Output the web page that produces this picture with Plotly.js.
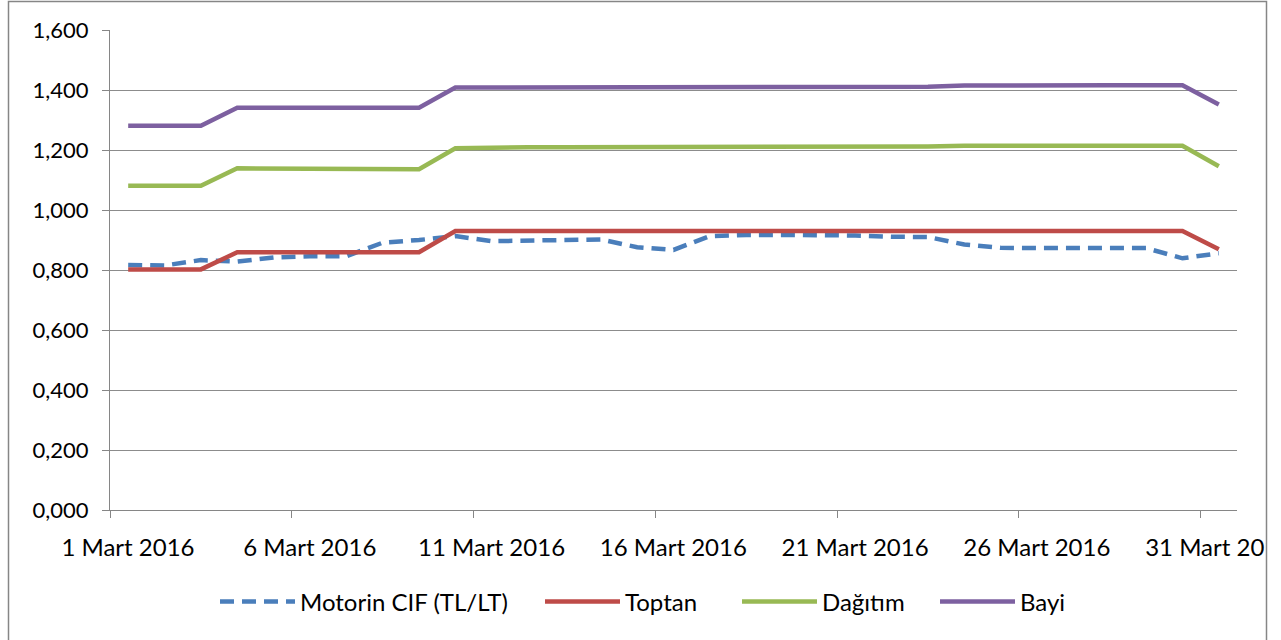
<!DOCTYPE html>
<html>
<head>
<meta charset="utf-8">
<script src="https://cdn.plot.ly/plotly-3.0.1.min.js"></script>
<style>
html,body{margin:0;padding:0;background:#fff;}
#chart{width:1281px;height:640px;}
</style>
</head>
<body>
<div id="chart"></div>
<script>
// Day of March 2016
const days = [1,2,3,4,5,6,7,8,9,10,11,12,13,14,15,16,17,18,19,20,21,22,23,24,25,26,27,28,29,30,31];
const tickDays = [1,6,11,16,21,26,31];
const tickLabels = ['1 Mart 2016','6 Mart 2016','11 Mart 2016','16 Mart 2016','21 Mart 2016','26 Mart 2016','31 Mart 2016'];

const seriesNames = ['Motorin CIF (TL/LT)','Toptan','Dağıtım','Bayi'];

const motorinCIF = [0.817,0.815,0.833,0.828,0.842,0.846,0.846,0.891,0.900,0.913,0.896,0.898,0.902,0.902,0.876,0.867,0.913,0.917,0.917,0.917,0.915,0.911,0.910,0.885,0.874,0.873,0.873,0.873,0.873,0.839,0.856];
const toptan     = [0.802,0.802,0.802,0.859,0.859,0.859,0.859,0.859,0.859,0.930,0.930,0.930,0.930,0.930,0.930,0.930,0.930,0.930,0.930,0.930,0.930,0.930,0.930,0.930,0.930,0.930,0.930,0.930,0.930,0.930,0.869];
const dagitim    = [1.081,1.081,1.081,1.139,1.139,1.139,1.139,1.139,1.136,1.206,1.209,1.209,1.209,1.209,1.209,1.209,1.209,1.209,1.209,1.209,1.209,1.210,1.212,1.214,1.214,1.214,1.214,1.214,1.214,1.214,1.146];
const bayi       = [1.281,1.281,1.281,1.341,1.341,1.341,1.341,1.341,1.341,1.408,1.408,1.408,1.408,1.408,1.408,1.408,1.408,1.408,1.408,1.408,1.408,1.409,1.411,1.415,1.416,1.416,1.416,1.416,1.416,1.416,1.352];

const colors = ['#4A7EBB','#BE4B48','#98B954','#7D60A0'];
const values = [motorinCIF, toptan, dagitim, bayi];
const legendIds = ['legend','legend2','legend3','legend4'];

const traces = values.map((v,i)=>({
  type:'scatter', mode:'lines', x: days, y: v, name: seriesNames[i],
  legend: legendIds[i],
  line:{color:colors[i], width:4.5, dash: i===0 ? '14px,8px' : 'solid'},
  hoverinfo:'skip'
}));

const fontFam = 'Lato, "Open Sans", sans-serif';
const L=110, R=1237, T=30, B=510;
const pw=R-L, ph=B-T;
const px = v => (v-L)/pw;
const py = v => (B-v)/ph;

const legendStarts = [215, 540, 737, 935];
const legendBase = {
  orientation:'h', xref:'paper', yref:'paper', xanchor:'left', yanchor:'middle',
  y: py(602), font:{family:fontFam, size:24, color:'#000'},
  itemwidth:75, bgcolor:'rgba(0,0,0,0)', borderwidth:0
};

const layout = {
  width:1281, height:640,
  margin:{l:L, r:1281-R, t:T, b:640-B, pad:0},
  paper_bgcolor:'#fff', plot_bgcolor:'#fff',
  separators:',.',
  font:{family:fontFam, size:22, color:'#000'},
  showlegend:true,
  xaxis:{
    range:[0.5,31.5], showgrid:false, zeroline:false,
    tickmode:'array', tickvals: tickDays.map(d=>d-0.5), ticktext: tickLabels,
    ticklabelshift:18, ticklabelstandoff:9, ticklabeloverflow:'allow',
    ticks:'outside', ticklen:7, tickcolor:'#868686', tickwidth:1,
    showline:true, linecolor:'#868686', linewidth:1,
    tickfont:{family:fontFam, size:24, color:'#000'},
    fixedrange:true
  },
  yaxis:{
    range:[0,1.6], dtick:0.2, tick0:0, tickformat:'.3f',
    showgrid:true, gridcolor:'#8C8C8C', gridwidth:1, zeroline:false,
    ticks:'outside', ticklen:7, tickcolor:'#868686', tickwidth:1,
    ticklabelstandoff:9,
    showline:true, linecolor:'#868686', linewidth:1,
    tickfont:{family:fontFam, size:22, color:'#000'},
    fixedrange:true
  },
  shapes:[
    {type:'rect', xref:'paper', yref:'paper', layer:'above',
     x0:px(1267), x1:px(1295), y0:py(660), y1:py(-10),
     fillcolor:'#fff', line:{width:0}},
    {type:'rect', xref:'paper', yref:'paper', layer:'above',
     x0:px(8.5), x1:px(1266.5), y0:py(645), y1:py(1.5),
     fillcolor:'rgba(0,0,0,0)', line:{color:'#868686', width:1.5}}
  ]
};
legendIds.forEach((id,i)=>{
  layout[id] = Object.assign({}, legendBase, {x: px(legendStarts[i])});
});

Plotly.newPlot('chart', traces, layout, {staticPlot:true, displayModeBar:false});
</script>
</body>
</html>
